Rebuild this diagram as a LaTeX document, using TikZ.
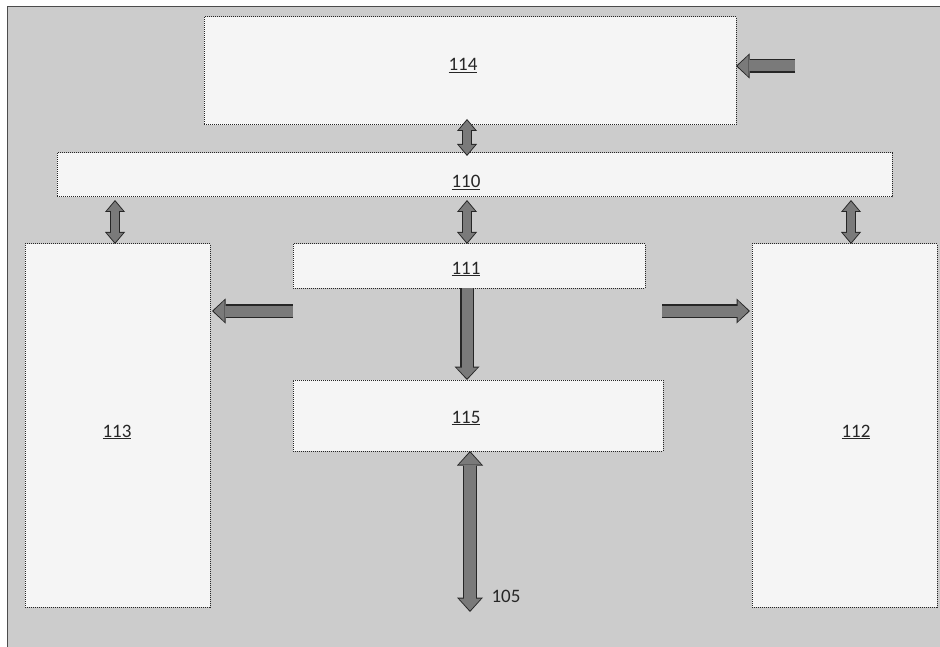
\documentclass[tikz,border=0pt]{standalone}
\usepackage{fontspec}
\setmainfont{Carlito}
\usetikzlibrary{arrows.meta,calc}
\definecolor{bgc}{gray}{0.80}
\definecolor{boxfill}{gray}{0.96}
\definecolor{boxline}{gray}{0.15}
\definecolor{arrfill}{gray}{0.48}
\definecolor{arrline}{gray}{0.15}
\tikzset{
  box/.style={draw=boxline, line width=1pt, densely dotted, fill=boxfill, inner sep=0pt, outer sep=0pt, anchor=north west},
  lab/.style={font=\fontsize{19}{22}\selectfont, text=black!85, inner sep=0pt, anchor=base},
  sarr/.style={draw=arrfill, line width=11pt, -{Triangle[length=11pt,width=21pt,line width=0pt]}, shorten >=1.5pt,
    preaction={draw=arrline, line width=13.5pt, -{Triangle[length=13.5pt,width=25pt,line width=0pt]}, shorten >=0pt}},
  darr/.style={draw=arrfill, line width=8pt, {Triangle[length=9.5pt,width=16pt,line width=0pt]}-{Triangle[length=9.5pt,width=16pt,line width=0pt]}, shorten >=1.5pt, shorten <=1.5pt,
    preaction={draw=arrline, line width=10.5pt, {Triangle[length=12pt,width=20pt,line width=0pt]}-{Triangle[length=12pt,width=20pt,line width=0pt]}, shorten >=0pt, shorten <=0pt}},
  barr/.style={draw=arrfill, line width=12pt, {Triangle[length=12pt,width=22pt,line width=0pt]}-{Triangle[length=12pt,width=22pt,line width=0pt]}, shorten >=1.5pt, shorten <=1.5pt,
    preaction={draw=arrline, line width=14.5pt, {Triangle[length=14.5pt,width=26pt,line width=0pt]}-{Triangle[length=14.5pt,width=26pt,line width=0pt]}, shorten >=0pt, shorten <=0pt}},
}
\begin{document}
\begin{tikzpicture}[x=1pt,y=-1pt]
\useasboundingbox (0,0) rectangle (940,647);
\clip (0,0) rectangle (940,647);
% background frame
\fill[white] (0,0) rectangle (940,647);
\draw[draw=black!70, line width=1pt, fill=bgc] (7,7) rectangle (960,670);

% boxes
\node[box, minimum width=532pt, minimum height=108pt] (b114) at (204,17) {};
\node[box, minimum width=835pt, minimum height=44pt] (b110) at (57,153) {};
\node[box, minimum width=185pt, minimum height=363pt] (b113) at (25,244) {};
\node[box, minimum width=352pt, minimum height=44pt] (b111) at (293,244) {};
\node[box, minimum width=370pt, minimum height=71pt] (b115) at (293,380) {};
\node[box, minimum width=185pt, minimum height=363pt] (b112) at (752,244) {};

% labels
\node[lab] (l114) at (463,71) {\underline{114}};
\node[lab] (l110) at (466,188) {\underline{110}};
\node[lab] (l111) at (466,274) {\underline{111}};
\node[lab] (l115) at (466,423) {\underline{115}};
\node[lab] (l113) at (117,437) {\underline{113}};
\node[lab] (l112) at (856,437) {\underline{112}};
\node[lab] (l105) at (506,602) {105};

% reference coordinates
\coordinate (xm) at (467,0);
\coordinate (xl) at (115,0);
\coordinate (xr) at (851,0);
\coordinate (xb) at (470,0);
\coordinate (yh) at (0,311);
\coordinate (in114) at (795,66);
\coordinate (r0) at (662,311);
\coordinate (e105) at (470,612);

% connectors
\draw[darr] ($(b114.south -| xm)+(0,-6)$) -- ($(b110.north -| xm)+(0,3)$);
\draw[darr] ($(b110.south -| xl)+(0,3)$) -- (b113.north -| xl);
\draw[darr] ($(b110.south -| xm)+(0,3)$) -- (b111.north -| xm);
\draw[darr] ($(b110.south -| xr)+(0,3)$) -- (b112.north -| xr);
\draw[sarr] (in114) -- (b114.east |- in114);
\draw[sarr] (b111.west |- yh) -- ($(b113.east |- yh)+(2,0)$);
\draw[sarr] (r0) -- ($(b112.west |- r0)+(-2,0)$);
\draw[sarr] (b111.south -| xm) -- (b115.north -| xm);
\draw[barr] (b115.south -| xb) -- (e105);
\end{tikzpicture}
\end{document}
